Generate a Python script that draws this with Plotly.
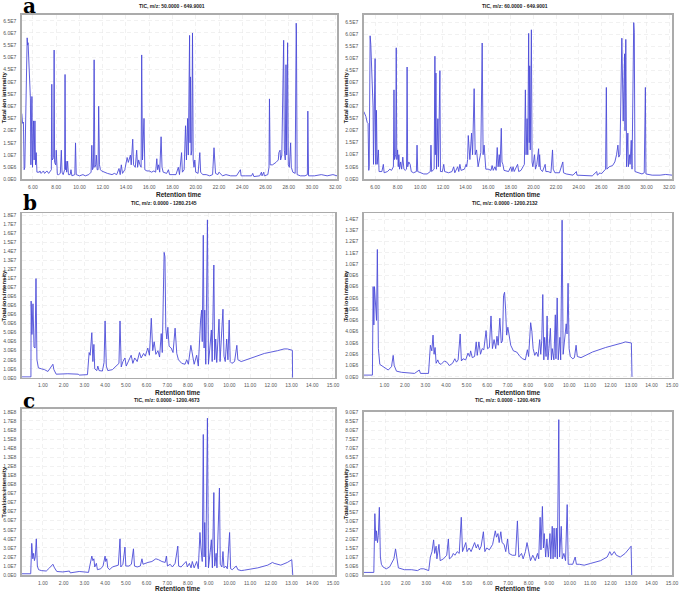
import plotly.graph_objects as go

# ---------------- DATA ----------------
# Panel a (GC-MS TIC), retention time in min, intensity in units of 1e7
a_left_time = [5.04, 5.10, 5.18, 5.24, 5.30, 5.50, 5.54, 5.58, 5.78, 5.82, 5.91, 5.96, 6.05, 6.10, 6.17, 6.22, 6.28, 6.34,
               6.55, 6.60, 6.70, 6.90, 7.00, 7.20, 7.35, 7.50, 7.58, 7.62, 7.66, 7.78, 7.82, 7.86, 7.95, 8.00, 8.05, 8.10,
               8.20, 8.35, 8.44, 8.50, 8.60, 8.72, 8.76, 8.80, 8.84, 8.90, 8.98, 9.05, 9.20, 9.27, 9.35, 9.60, 9.66, 9.72,
               10.0, 10.3, 10.5, 10.8, 11.0, 11.06, 11.12, 11.2, 11.26, 11.32, 11.4, 11.45, 11.52, 11.6, 11.65, 11.72,
               11.8, 11.9, 12.1, 12.4, 12.8, 13.0, 13.2, 13.4, 13.5, 13.6, 13.7, 13.9, 14.1, 14.2, 14.38, 14.45, 14.58,
               14.65, 14.8, 14.92, 15.0, 15.09, 15.2, 15.3, 15.35, 15.42, 15.55, 15.62, 15.8, 16.0, 16.2, 16.4, 16.55,
               16.65, 16.72, 16.8, 16.9, 17.02, 17.1, 17.2, 17.5, 17.65, 17.75, 18.0, 18.3, 18.5, 18.6, 18.78, 18.85,
               19.0, 19.12, 19.2, 19.3, 19.36, 19.47, 19.51, 19.55, 19.6, 19.66, 19.72, 19.78, 19.85, 19.92, 20.0, 20.2,
               20.35, 20.42, 20.6, 20.9, 21.2, 21.45, 21.57, 21.63, 21.7, 21.9, 22.0, 22.3, 22.6, 23.0, 23.5, 23.84, 23.9,
               24.3, 24.8, 24.9, 25.0, 25.5, 25.65, 25.7, 25.85, 25.9, 26.2, 26.3, 26.34, 26.4, 26.6, 26.9, 27.1, 27.15,
               27.25, 27.3, 27.4, 27.56, 27.62, 27.7, 27.76, 27.82, 27.9, 27.96, 28.05, 28.16, 28.22, 28.35, 28.55, 28.64,
               28.66, 28.72, 29.0, 29.4, 29.6, 29.64, 29.7, 30.2, 30.8, 31.3, 31.8, 32.15]
a_left_int = [2.7, 2.3, 2.35, 0.4, 0.5, 5.8, 5.5, 5.6, 3.3, 0.6, 3.4, 0.5, 2.4, 0.8, 2.4, 0.6, 1.1, 0.3,
              0.3, 0.35, 0.25, 0.35, 0.25, 0.35, 0.25, 0.35, 0.4, 3.9, 0.8, 0.9, 5.3, 0.7, 0.6, 1.2, 0.3, 0.2,
              0.2, 0.25, 1.2, 0.3, 0.2, 0.4, 4.3, 0.4, 0.75, 0.3, 0.75, 0.2, 0.2, 0.4, 0.15, 0.2, 1.5, 0.2,
              0.15, 0.2, 0.15, 0.2, 0.3, 1.4, 0.4, 0.5, 4.9, 0.5, 0.6, 1.0, 0.4, 0.4, 3.0, 0.6,
              0.4, 0.35, 0.3, 0.25, 0.2, 0.25, 0.2, 0.45, 0.2, 0.6, 0.25, 0.4, 0.9, 0.7, 1.0, 0.6, 1.65,
              0.6, 0.5, 1.2, 0.5, 0.8, 0.6, 0.5, 5.1, 0.8, 2.5, 0.4, 0.35, 0.35, 0.3, 0.35, 0.3,
              0.85, 0.4, 0.6, 0.3, 1.75, 0.5, 0.3, 0.25, 0.4, 0.2, 0.2, 0.2, 0.5, 0.2, 1.1, 0.3,
              0.4, 2.2, 0.8, 2.5, 1.0, 5.9, 1.5, 4.2, 1.0, 1.2, 6.0, 0.8, 0.5, 0.8, 0.3, 0.25,
              1.1, 0.3, 0.2, 0.2, 0.15, 0.2, 1.3, 0.5, 0.25, 0.2, 0.3, 0.15, 0.2, 0.15, 0.15, 0.4, 0.15,
              0.15, 0.15, 0.25, 0.12, 0.15, 0.3, 0.15, 0.3, 0.15, 0.2, 0.5, 3.3, 0.6, 0.6, 0.7, 0.8, 1.1,
              1.2, 0.8, 1.0, 5.7, 1.2, 0.8, 4.7, 1.0, 5.6, 0.6, 0.5, 1.5, 0.5, 0.3, 0.25, 6.4,
              6.0, 0.2, 0.15, 0.15, 0.2, 2.8, 0.15, 0.15, 0.2, 0.15, 0.2, 0.15]

a_right_time = [5.0, 5.18, 5.30, 5.38, 5.44, 5.48, 5.56, 5.62, 5.82, 5.86, 6.0, 6.06, 6.12, 6.18, 6.29, 6.35, 6.6, 6.73,
                6.8, 7.1, 7.3, 7.45, 7.62, 7.67, 7.72, 7.82, 7.87, 7.92, 7.99, 8.05, 8.10, 8.16, 8.26, 8.35, 8.45,
                8.55, 8.66, 8.78, 8.83, 8.88, 8.98, 9.1, 9.2, 9.4, 9.65, 9.71, 9.77, 10.0, 10.3, 10.6, 10.88, 10.94,
                11.0, 11.22, 11.29, 11.33, 11.38, 11.43, 11.55, 11.6, 11.73, 11.78, 11.95, 12.07, 12.15, 12.5, 12.8,
                12.95, 13.05, 13.3, 13.4, 13.5, 13.6, 13.9, 14.05, 14.1, 14.18, 14.24, 14.38, 14.53, 14.62, 14.76,
                14.85, 14.97, 15.11, 15.35, 15.47, 15.55, 15.64, 15.79, 16.0, 16.25, 16.35, 16.45, 16.6, 16.7, 16.8,
                16.88, 16.98, 17.05, 17.16, 17.22, 17.3, 17.4, 17.8, 18.0, 18.1, 18.2, 18.3, 18.6, 18.7, 18.9, 19.05,
                19.2, 19.29, 19.35, 19.44, 19.5, 19.58, 19.63, 19.67, 19.72, 19.82, 19.88, 19.95, 20.1, 20.18, 20.3,
                20.46, 20.5, 20.55, 20.62, 20.8, 21.04, 21.1, 21.3, 21.55, 21.69, 21.75, 21.9, 22.3, 22.6, 22.66,
                22.9, 23.5, 23.8, 23.85, 24.5, 25.2, 25.6, 25.65, 25.9, 26.0, 26.38, 26.45, 26.5, 26.7, 27.0, 27.2,
                27.35, 27.47, 27.55, 27.65, 27.82, 27.88, 27.94, 28.06, 28.1, 28.17, 28.24, 28.35, 28.4, 28.5, 28.55,
                28.65, 28.72, 28.87, 28.92, 28.98, 29.3, 29.6, 29.8, 29.9, 29.95, 30.5, 31.2, 31.7, 32.26]
a_right_int = [2.8, 2.6, 2.35, 2.3, 0.35, 0.5, 5.95, 5.6, 3.0, 0.6, 5.0, 0.6, 2.85, 0.6, 1.2, 0.3, 0.3, 0.6,
               0.25, 0.3, 0.4, 0.35, 0.5, 3.7, 0.8, 1.0, 5.45, 0.8, 1.2, 0.5, 1.0, 0.4, 0.7, 0.4, 0.9,
               0.4, 0.35, 0.4, 4.65, 0.5, 0.7, 0.6, 0.3, 0.25, 0.3, 1.4, 0.3, 0.25, 0.2, 0.2, 0.3, 1.4,
               0.3, 0.4, 5.1, 1.0, 4.4, 0.4, 2.5, 0.5, 4.5, 0.3, 0.3, 0.6, 0.3, 0.25, 0.3,
               0.5, 0.25, 0.5, 0.3, 0.6, 0.35, 0.4, 0.6, 0.5, 0.8, 1.8, 0.8, 1.9, 1.0, 3.75,
               1.0, 1.2, 0.5, 1.1, 5.65, 1.0, 1.4, 0.4, 0.4, 0.35, 0.55, 0.35, 0.5, 0.35, 1.3,
               0.5, 1.0, 0.5, 2.1, 0.7, 0.6, 0.35, 0.3, 0.5, 0.3, 0.5, 0.3, 0.6, 0.3, 0.35, 0.5,
               0.6, 3.7, 1.0, 2.5, 1.0, 6.05, 1.5, 4.7, 1.2, 6.2, 0.7, 0.5, 1.0, 0.4, 0.6,
               1.25, 0.5, 1.0, 0.4, 0.3, 0.6, 0.3, 0.3, 0.25, 1.2, 0.4, 0.25, 0.25, 0.7, 0.25,
               0.2, 0.15, 0.3, 0.15, 0.15, 0.12, 0.3, 0.15, 0.25, 0.2, 0.4, 3.8, 0.4, 0.5, 0.55, 0.7,
               1.0, 1.4, 0.9, 1.0, 5.85, 2.4, 2.4, 5.2, 2.0, 5.8, 0.5, 1.9, 0.5, 1.0, 0.6,
               1.6, 0.4, 6.5, 6.1, 0.3, 0.25, 0.2, 0.25, 3.8, 0.2, 0.15, 0.15, 0.18, 0.15]

# Panel b (LC-MS TIC), intensity in units of 1e6
b_left_time = [-0.02, 0.42, 0.43, 0.47, 0.52, 0.55, 0.57, 0.62, 0.665, 0.71, 0.78, 0.92, 1.08, 1.24, 1.40, 1.48, 1.53,
               1.64, 2.2, 2.71, 2.75, 3.15, 3.23, 3.28, 3.36, 3.41, 3.46, 3.50, 3.60, 3.65, 3.71, 3.87, 3.95, 4.0,
               4.06, 4.13, 4.35, 4.51, 4.67, 4.72, 4.78, 4.86, 4.96, 5.02, 5.15, 5.26, 5.34, 5.43, 5.55, 5.66,
               5.74, 5.86, 5.94, 6.06, 6.14, 6.23, 6.30, 6.37, 6.45, 6.55, 6.63, 6.71, 6.76, 6.81, 6.85, 6.89,
               6.93, 6.98, 7.03, 7.09, 7.19, 7.28, 7.38, 7.46, 7.54, 7.70, 7.86, 7.94, 8.02, 8.14, 8.22, 8.30,
               8.42, 8.50, 8.61, 8.66, 8.69, 8.74, 8.78, 8.81, 8.86, 8.94, 8.99, 9.07, 9.13, 9.17, 9.25, 9.29,
               9.34, 9.39, 9.44, 9.50, 9.55, 9.60, 9.69, 9.74, 9.80, 9.87, 9.93, 9.99, 10.04, 10.12, 10.25,
               10.36, 10.41, 10.57, 11.05, 11.69, 12.32, 12.64, 12.80, 13.04, 13.05]
b_left_int = [0.1, 0.1, 8.5, 4.8, 8.2, 6.5, 3.4, 3.3, 11.0, 2.0, 1.1, 1.0, 0.9, 0.7, 1.2, 1.5, 0.9,
              0.4, 0.45, 0.4, 0.3, 0.35, 2.8, 2.5, 5.0, 1.8, 3.7, 1.0, 0.8, 1.3, 0.8, 0.75, 1.7, 6.3,
              1.3, 0.8, 0.9, 1.3, 1.6, 6.3, 1.2, 1.8, 2.2, 1.3, 2.0, 2.5, 1.6, 2.2, 1.8, 2.8,
              2.2, 2.7, 2.4, 3.3, 2.5, 6.6, 3.0, 4.0, 2.6, 3.0, 2.3, 4.9, 2.8, 9.0, 13.9, 13.4,
              5.5, 4.3, 5.6, 3.5, 3.3, 2.8, 5.5, 2.7, 2.0, 1.6, 1.5, 2.0, 1.5, 3.6, 2.3, 1.5,
              2.5, 1.3, 6.4, 7.5, 4.0, 15.8, 3.3, 7.5, 1.5, 17.5, 1.5, 3.5, 5.3, 1.8, 12.5, 2.0,
              4.3, 1.7, 3.5, 6.5, 1.8, 3.5, 7.6, 2.4, 1.8, 4.3, 2.0, 6.4, 1.8, 1.6, 1.8,
              3.6, 2.0, 1.8, 2.2, 2.7, 3.0, 3.2, 3.2, 3.05, 0.0]

b_right_time = [0.0, 0.42, 0.455, 0.49, 0.52, 0.57, 0.62, 0.66, 0.71, 0.78, 0.95, 1.19, 1.35, 1.43, 1.48, 1.59, 1.83,
                2.15, 2.47, 2.70, 2.76, 3.15, 3.24, 3.31, 3.37, 3.42, 3.47, 3.52, 3.60, 3.66, 3.76, 3.92, 4.04, 4.16,
                4.32, 4.43, 4.51, 4.59, 4.69, 4.75, 4.83, 4.96, 5.07, 5.15, 5.20, 5.28, 5.39, 5.47, 5.52, 5.60,
                5.68, 5.76, 5.84, 5.95, 6.02, 6.11, 6.19, 6.26, 6.34, 6.42, 6.48, 6.54, 6.62, 6.69, 6.75, 6.80,
                6.85, 6.90, 6.95, 7.01, 7.07, 7.15, 7.28, 7.44, 7.60, 7.73, 7.86, 7.96, 8.02, 8.12, 8.18, 8.24,
                8.32, 8.40, 8.48, 8.56, 8.61, 8.66, 8.71, 8.76, 8.80, 8.87, 8.92, 8.96, 9.01, 9.08, 9.13, 9.17,
                9.25, 9.32, 9.35, 9.41, 9.46, 9.54, 9.58, 9.65, 9.70, 9.78, 9.85, 9.89, 9.94, 9.99, 10.05, 10.17,
                10.25, 10.33, 10.39, 10.57, 11.13, 11.77, 12.25, 12.57, 12.73, 13.02, 13.05]
b_right_int = [0.15, 0.15, 8.0, 4.6, 8.0, 6.6, 5.0, 11.3, 2.5, 1.1, 0.9, 0.6, 0.9, 1.9, 1.0, 0.5, 0.4,
               0.35, 0.3, 0.6, 0.3, 0.3, 2.8, 2.3, 3.7, 2.0, 2.6, 1.2, 1.5, 1.2, 1.1, 1.4, 1.3, 1.0,
               1.2, 1.6, 1.3, 1.5, 3.8, 1.4, 1.6, 1.5, 2.1, 1.8, 2.3, 1.7, 1.8, 3.1, 1.9, 3.1,
               2.0, 2.5, 2.4, 4.1, 2.5, 2.6, 5.4, 2.5, 3.3, 2.5, 3.6, 2.8, 5.2, 3.0, 3.2, 7.2,
               7.5, 6.0, 3.7, 4.4, 3.5, 2.8, 2.3, 2.2, 1.8, 1.6, 1.5, 2.4, 1.8, 4.8, 4.0, 2.5,
               1.9, 2.2, 1.8, 3.3, 2.0, 3.2, 7.3, 1.5, 3.5, 1.8, 5.4, 1.5, 2.5, 4.3, 1.5, 2.5,
               1.5, 5.5, 1.6, 7.0, 1.5, 3.5, 1.5, 13.9, 2.0, 3.5, 4.7, 3.8, 8.3, 2.5, 1.8, 1.6,
               1.7, 2.8, 1.8, 1.7, 2.2, 2.6, 2.8, 3.0, 3.1, 3.0, 0.0]

# Panel c (LC-MS TIC), intensity in units of 1e7
c_left_time = [-0.02, 0.41, 0.46, 0.51, 0.55, 0.59, 0.63, 0.68, 0.73, 0.79, 0.92, 1.16, 1.32, 1.48, 1.56, 1.67, 1.96,
               2.28, 2.32, 2.59, 2.75, 2.99, 3.20, 3.26, 3.36, 3.41, 3.46, 3.50, 3.58, 3.63, 3.79, 3.90, 4.00, 4.03,
               4.08, 4.13, 4.22, 4.35, 4.51, 4.64, 4.72, 4.76, 4.86, 4.96, 5.00, 5.15, 5.27, 5.37, 5.42, 5.55,
               5.70, 5.78, 5.83, 5.94, 6.07, 6.26, 6.45, 6.58, 6.74, 6.90, 6.96, 7.01, 7.14, 7.25, 7.38, 7.51,
               7.55, 7.67, 7.78, 7.91, 7.97, 8.07, 8.15, 8.21, 8.30, 8.42, 8.50, 8.58, 8.62, 8.69, 8.74, 8.78,
               8.81, 8.86, 8.94, 8.99, 9.07, 9.13, 9.18, 9.25, 9.29, 9.36, 9.40, 9.52, 9.56, 9.64, 9.69, 9.74,
               9.82, 9.90, 10.01, 10.06, 10.14, 10.25, 10.33, 10.41, 10.57, 10.73, 11.37, 11.85, 12.08, 12.16,
               12.48, 12.80, 13.01, 13.06]
c_left_int = [0.15, 0.15, 3.5, 1.8, 2.4, 1.6, 2.0, 4.0, 1.0, 0.6, 0.5, 0.45, 0.8, 1.2, 0.8, 0.4, 0.35,
              0.45, 0.25, 0.3, 0.4, 0.35, 0.3, 1.0, 2.1, 1.6, 1.8, 0.9, 1.3, 0.6, 0.7, 1.0, 2.1, 1.5,
              1.8, 0.8, 0.6, 0.9, 1.0, 1.1, 4.0, 0.9, 1.2, 3.1, 1.0, 1.0, 1.2, 2.9, 1.0, 0.9,
              1.0, 1.8, 1.2, 1.3, 1.4, 1.5, 1.8, 1.7, 1.5, 1.4, 2.1, 1.0, 1.2, 0.9, 1.3, 3.2,
              1.0, 0.9, 1.2, 1.5, 0.9, 1.3, 0.8, 1.5, 0.8, 1.5, 0.7, 4.7, 3.2, 1.5, 15.5, 2.0,
              5.8, 0.9, 17.3, 0.8, 2.5, 3.9, 0.8, 9.1, 1.0, 2.4, 0.8, 9.6, 1.2, 0.9, 2.6, 0.8,
              1.0, 0.7, 4.7, 0.7, 0.6, 0.8, 1.0, 0.6, 0.5, 0.55, 0.8, 1.1, 1.4, 1.3,
              1.1, 1.4, 1.7, 0.0]

c_right_time = [-0.05, 0.44, 0.49, 0.54, 0.57, 0.62, 0.66, 0.71, 0.76, 0.81, 0.89, 1.05, 1.21, 1.29, 1.42, 1.50, 1.56,
                1.64, 1.93, 2.29, 2.57, 2.73, 2.88, 3.12, 3.20, 3.28, 3.36, 3.41, 3.48, 3.52, 3.62, 3.68, 3.84, 3.94,
                4.00, 4.08, 4.13, 4.24, 4.32, 4.40, 4.51, 4.61, 4.71, 4.77, 4.85, 4.93, 4.99, 5.09, 5.19, 5.28,
                5.36, 5.44, 5.52, 5.60, 5.68, 5.79, 5.86, 5.95, 6.08, 6.24, 6.37, 6.43, 6.50, 6.56, 6.64, 6.70,
                6.80, 6.88, 6.97, 7.04, 7.20, 7.36, 7.45, 7.52, 7.65, 7.73, 7.84, 7.92, 8.00, 8.09, 8.20, 8.32,
                8.43, 8.49, 8.56, 8.60, 8.67, 8.72, 8.76, 8.83, 8.89, 8.96, 9.04, 9.08, 9.15, 9.19, 9.24, 9.29,
                9.35, 9.40, 9.47, 9.51, 9.59, 9.64, 9.72, 9.80, 9.88, 9.93, 10.03, 10.15, 10.27, 10.33, 10.47,
                10.71, 11.03, 11.51, 11.83, 11.96, 12.05, 12.18, 12.28, 12.47, 12.71, 12.92, 13.00, 13.03]
c_right_int = [0.15, 0.15, 3.4, 1.9, 2.45, 1.8, 2.2, 3.75, 1.0, 0.6, 0.45, 0.35, 0.45, 0.6, 0.9, 1.45, 0.9,
               0.4, 0.3, 0.3, 0.25, 0.35, 0.35, 0.25, 1.0, 1.3, 1.95, 1.2, 1.6, 0.9, 1.7, 0.8, 0.9, 1.0,
               1.1, 2.0, 0.9, 1.0, 1.2, 1.1, 1.3, 1.2, 3.2, 1.3, 1.5, 1.8, 1.3, 1.5, 1.3, 1.6,
               1.8, 1.5, 1.7, 1.4, 1.6, 2.4, 1.3, 1.5, 1.4, 1.7, 2.45, 2.1, 2.3, 1.8, 2.4, 1.8,
               1.7, 1.3, 2.0, 1.2, 1.1, 1.1, 3.0, 1.0, 1.2, 0.9, 1.3, 1.8, 1.2, 0.8, 1.1, 0.8,
               1.2, 0.9, 3.2, 1.4, 3.8, 1.5, 2.3, 1.0, 2.0, 1.0, 2.3, 0.9, 2.7, 0.9, 2.6, 1.0,
               2.6, 0.9, 8.6, 1.0, 2.7, 0.9, 1.2, 0.8, 3.9, 0.6, 0.6, 0.6, 1.0, 0.6, 0.6,
               0.55, 0.65, 0.8, 1.0, 1.3, 1.1, 1.3, 1.1, 1.0, 1.2, 1.5, 1.6, 0.0]

# Tick values / labels
a_xticks = [6, 8, 10, 12, 14, 16, 18, 20, 22, 24, 26, 28, 30, 32]
a_xlabels = ["6.00", "8.00", "10.00", "12.00", "14.00", "16.00", "18.00", "20.00", "22.00", "24.00",
             "26.00", "28.00", "30.00", "32.00"]
bc_xticks = [1, 2, 3, 4, 5, 6, 7, 8, 9, 10, 11, 12, 13, 14, 15]
bc_xlabels = ["1.00", "2.00", "3.00", "4.00", "5.00", "6.00", "7.00", "8.00", "9.00", "10.00", "11.00",
              "12.00", "13.00", "14.00", "15.00"]
a_yticks = [0, 0.5e7, 1.0e7, 1.5e7, 2.0e7, 2.5e7, 3.0e7, 3.5e7, 4.0e7, 4.5e7, 5.0e7, 5.5e7, 6.0e7, 6.5e7]
a_ylabels = ["0.0E0", "5.0E6", "1.0E7", "1.5E7", "2.0E7", "2.5E7", "3.0E7", "3.5E7", "4.0E7", "4.5E7",
             "5.0E7", "5.5E7", "6.0E7", "6.5E7"]
bl_yticks = [i * 1e6 for i in range(19)]
bl_ylabels = ["0.0E0", "1.0E6", "2.0E6", "3.0E6", "4.0E6", "5.0E6", "6.0E6", "7.0E6", "8.0E6", "9.0E6",
              "1.0E7", "1.1E7", "1.2E7", "1.3E7", "1.4E7", "1.5E7", "1.6E7", "1.7E7", "1.8E7"]
br_yticks = [i * 1e6 for i in range(15)]
br_ylabels = bl_ylabels[:15]
cl_yticks = [i * 1e7 for i in range(19)]
cl_ylabels = ["0.0E0", "1.0E7", "2.0E7", "3.0E7", "4.0E7", "5.0E7", "6.0E7", "7.0E7", "8.0E7", "9.0E7",
              "1.0E8", "1.1E8", "1.2E8", "1.3E8", "1.4E8", "1.5E8", "1.6E8", "1.7E8", "1.8E8"]
cr_yticks = [i * 0.5e7 for i in range(19)]
cr_ylabels = ["0.0E0", "5.0E6", "1.0E7", "1.5E7", "2.0E7", "2.5E7", "3.0E7", "3.5E7", "4.0E7", "4.5E7",
              "5.0E7", "5.5E7", "6.0E7", "6.5E7", "7.0E7", "7.5E7", "8.0E7", "8.5E7", "9.0E7"]

titles = ["TIC, m/z: 50.0000 - 649.9001", "TIC, m/z: 60.0000 - 649.9001",
          "TIC, m/z: 0.0000 - 1280.2145", "TIC, m/z: 0.0000 - 1200.2132",
          "TIC, m/z: 0.0000 - 1200.4673", "TIC, m/z: 0.0000 - 1200.4679"]
panel_letters = ["a", "b", "c"]

# ---------------- FIGURE ----------------
W, H = 685, 593
def fx(p):
    return p / W
def fy(p):
    return 1 - p / H

series = [
    (a_left_time, [v * 1e7 for v in a_left_int]),
    (a_right_time, [v * 1e7 for v in a_right_int]),
    (b_left_time, [v * 1e6 for v in b_left_int]),
    (b_right_time, [v * 1e6 for v in b_right_int]),
    (c_left_time, [v * 1e7 for v in c_left_int]),
    (c_right_time, [v * 1e7 for v in c_right_int]),
]
# pixel boxes: (left, right, top, bottom)
boxes = [(22, 340, 13, 179), (367, 678, 13, 179),
         (22, 338, 213, 379), (367, 678, 213, 379),
         (22, 338, 410, 578), (367, 678, 413, 578)]
xranges = [[5.04, 32.15], [5.0, 32.26], [-0.02, 15.1], [0.0, 15.0], [-0.02, 15.1], [-0.05, 15.0]]
yranges = [[0, 6.74e7], [-0.03e7, 6.82e7], [0, 1.824e7], [-0.09e6, 1.452e7], [0, 1.836e8], [0, 9.05e7]]
xt = [(a_xticks, a_xlabels)] * 2 + [(bc_xticks, bc_xlabels)] * 4
yt = [(a_yticks, a_ylabels), (a_yticks, a_ylabels), (bl_yticks, bl_ylabels), (br_yticks, br_ylabels),
      (cl_yticks, cl_ylabels), (cr_yticks, cr_ylabels)]
title_cx = [174, 520, 165, 509, 168, 512]
title_y = [4, 4, 203, 203, 401, 401]
xlabel_y = [194, 194, 393, 393, 591, 591]

fig = go.Figure()
layout = dict(width=W, height=H, margin=dict(l=0, r=0, t=0, b=0),
              paper_bgcolor="white", plot_bgcolor="white", showlegend=False)
annotations = []
tickfont = dict(family="Liberation Sans, Arial", size=5, color="#555555")
for i, ((tx, ty), (l, r, t, b)) in enumerate(zip(series, boxes)):
    k = "" if i == 0 else str(i + 1)
    fig.add_trace(go.Scatter(x=tx, y=ty, mode="lines", xaxis="x" + k, yaxis="y" + k,
                             line=dict(color="#4c4cd8", width=0.9), hoverinfo="skip"))
    common = dict(showgrid=True, gridcolor="#e8e8e8", griddash="4px,3px", gridwidth=0.6,
                  showline=True, linecolor="#ababab", linewidth=1.5, mirror=True,
                  zeroline=False, ticks="", tickfont=tickfont)
    layout["xaxis" + k] = dict(domain=[fx(l), fx(r)], range=xranges[i], anchor="y" + k,
                               tickmode="array", tickvals=xt[i][0], ticktext=xt[i][1],
                               ticklabelstandoff=2, **common)
    layout["yaxis" + k] = dict(domain=[fy(b), fy(t)], range=yranges[i], anchor="x" + k,
                               tickmode="array", tickvals=yt[i][0], ticktext=yt[i][1],
                               ticklabelstandoff=3, **common)
    annotations.append(dict(text="<b>" + titles[i] + "</b>", x=fx(title_cx[i]), y=fy(title_y[i]),
                            xref="paper", yref="paper", xanchor="center", yanchor="middle",
                            showarrow=False, font=dict(family="Liberation Sans, Arial", size=5, color="#222")))
    annotations.append(dict(text="<b>Retention time</b>", x=fx((l + r) / 2), y=fy(xlabel_y[i] + 0.5),
                            xref="paper", yref="paper", xanchor="center", yanchor="middle",
                            showarrow=False, font=dict(family="Liberation Sans, Arial", size=6.5, color="#222")))
    annotations.append(dict(text="<b>Total ion intensity</b>", x=fx(l - 18), y=fy((t + b) / 2),
                            xref="paper", yref="paper", xanchor="center", yanchor="middle", textangle=-90,
                            showarrow=False, font=dict(family="Liberation Sans, Arial", size=6, color="#222")))

letter_y = [4, 203, 402]
for j, letter in enumerate(panel_letters):
    annotations.append(dict(text="<b>" + letter + "</b>", x=fx(21), y=fy(letter_y[j]), xref="paper",
                            yref="paper", xanchor="left", yanchor="middle", showarrow=False,
                            font=dict(family="DejaVu Serif", size=20, color="black")))
layout["annotations"] = annotations
fig.update_layout(**layout)
fig.write_html("out.html", config={"displayModeBar": False, "staticPlot": True},
               post_script="document.body.style.margin='0';document.body.style.overflow='hidden';")
